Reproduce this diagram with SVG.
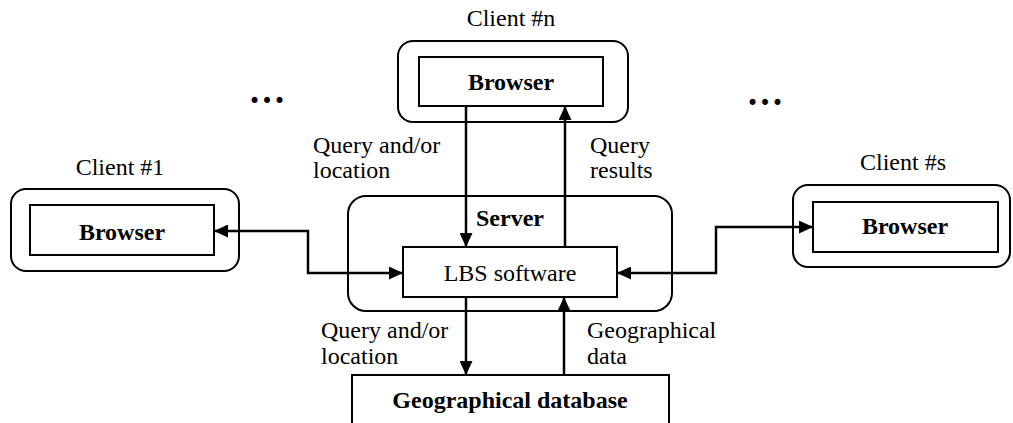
<svg xmlns="http://www.w3.org/2000/svg" width="1013" height="423" viewBox="0 0 1013 423">
<style>
text{font-family:"Liberation Serif","Times New Roman",serif;font-size:24px;fill:#000}
.b{font-weight:bold}
.m{text-anchor:middle}
.outer{fill:none;stroke:#000;stroke-width:2}
.box{fill:#fff;stroke:#000;stroke-width:2}
.c{fill:none;stroke:#000;stroke-width:2.5}
</style>
<defs>
<marker id="ah" viewBox="0 0 14 13" refX="14" refY="6.5" markerWidth="14" markerHeight="13" markerUnits="userSpaceOnUse" orient="auto-start-reverse">
<path d="M0,0 L14,6.5 L0,13 Z" fill="#000"/>
</marker>
</defs>
<rect width="1013" height="423" fill="#fff"/>
<g id="client-n">
<text class="m" x="511" y="26">Client #n</text>
<rect class="outer" x="398" y="41" width="230" height="81" rx="15"/>
<rect class="box" x="419" y="57" width="184" height="49"/>
<text class="b m" x="511" y="90">Browser</text>
</g>
<g id="client-1">
<text class="m" x="120" y="175">Client #1</text>
<rect class="outer" x="11" y="189" width="228" height="82" rx="15"/>
<rect class="box" x="30" y="205" width="184" height="50"/>
<text class="b m" x="122" y="240">Browser</text>
</g>
<g id="client-s">
<text class="m" x="903" y="170">Client #s</text>
<rect class="outer" x="793" y="185" width="217" height="82" rx="15"/>
<rect class="box" x="813" y="202" width="185" height="50"/>
<text class="b m" x="905" y="234">Browser</text>
</g>
<g id="server">
<rect class="outer" x="348" y="196" width="324" height="115" rx="18"/>
<text class="b m" x="510" y="226">Server</text>
</g>
<g id="lbs">
<rect class="box" x="403" y="247" width="214" height="50"/>
<text class="m" x="510" y="281">LBS software</text>
</g>
<g id="database">
<rect class="box" x="352" y="375" width="317" height="70"/>
<text class="b m" x="510" y="408">Geographical database</text>
</g>
<g id="dots">
<text class="b m" x="267" y="103" style="font-size:37px">…</text>
<text class="b m" x="765" y="105" style="font-size:37px">…</text>
</g>
<g id="connectors">
<path class="c" d="M466,106 V247" marker-end="url(#ah)"/>
<path class="c" d="M565,247 V106" marker-end="url(#ah)"/>
<path class="c" d="M214,231 H308 V273 H403" marker-start="url(#ah)" marker-end="url(#ah)"/>
<path class="c" d="M617,273 H716 V227 H813" marker-start="url(#ah)" marker-end="url(#ah)"/>
<path class="c" d="M466,297 V375" marker-end="url(#ah)"/>
<path class="c" d="M564,375 V297" marker-end="url(#ah)"/>
</g>
<g id="labels">
<text x="313" y="153">Query and/or</text>
<text x="313" y="178">location</text>
<text x="590" y="153">Query</text>
<text x="590" y="178">results</text>
<text x="321" y="338">Query and/or</text>
<text x="321" y="364">location</text>
<text x="587" y="338">Geographical</text>
<text x="587" y="364">data</text>
</g>
</svg>
